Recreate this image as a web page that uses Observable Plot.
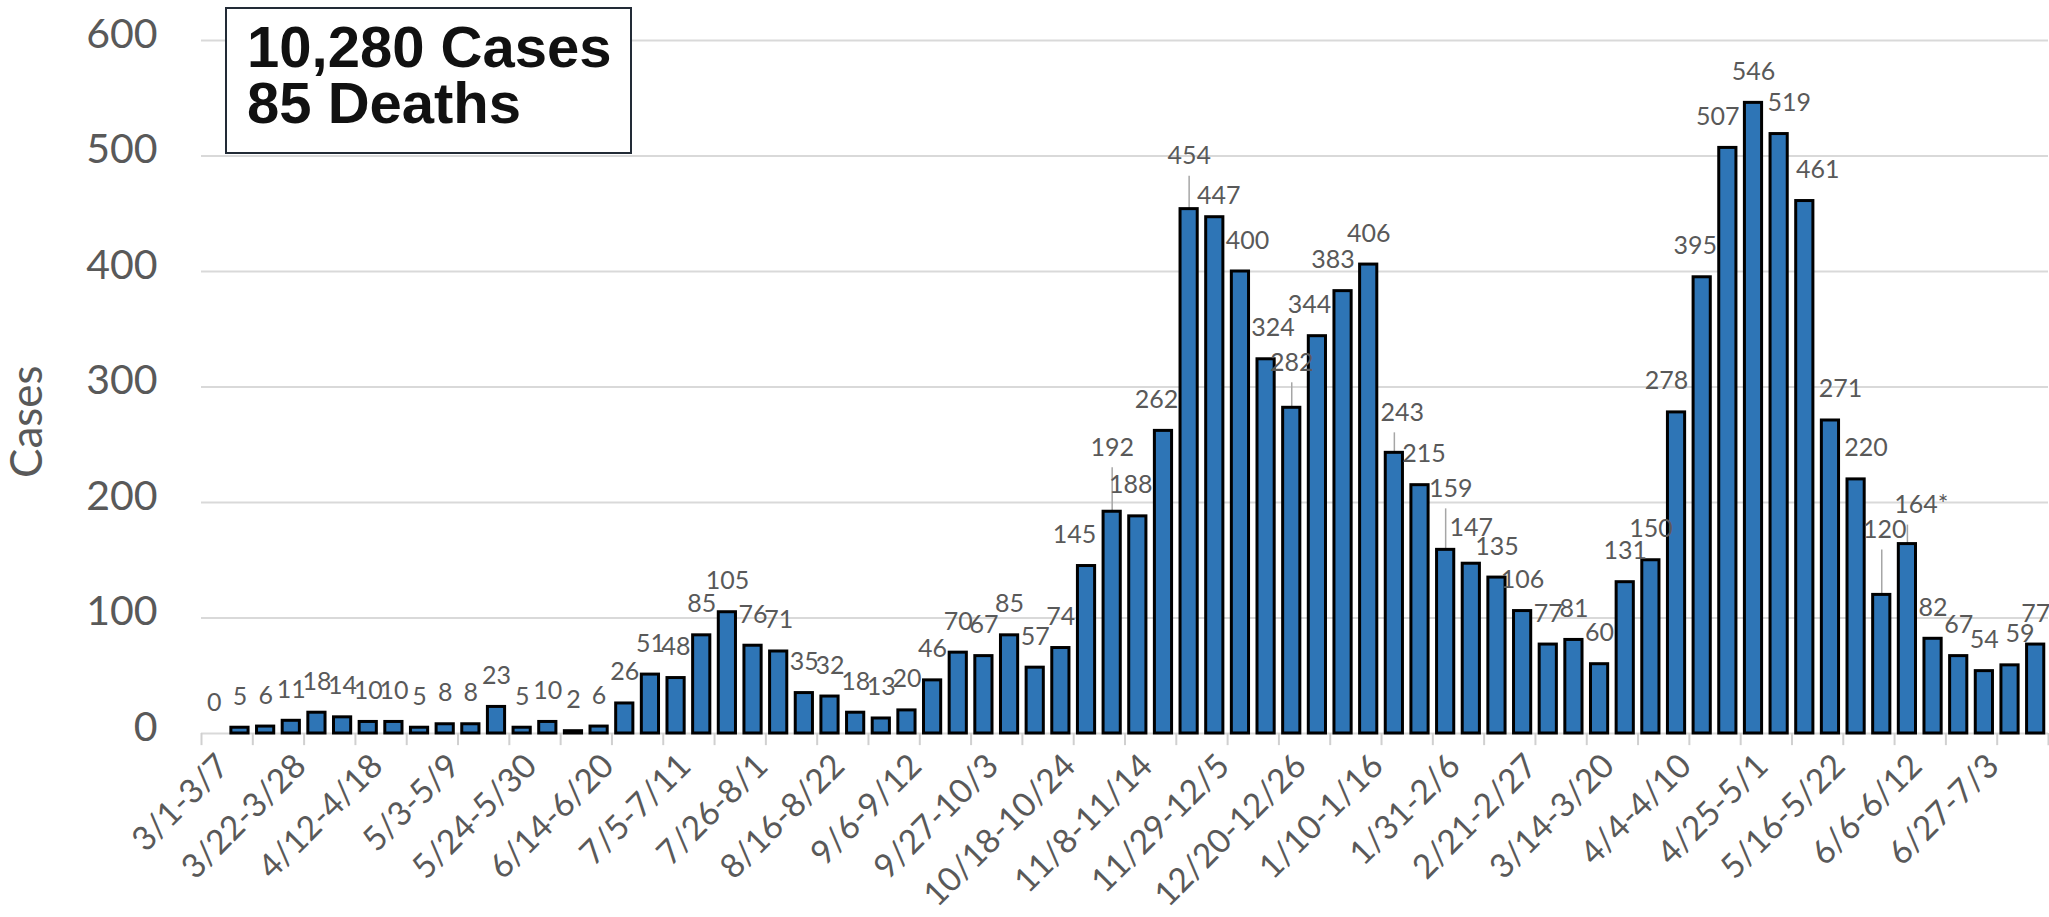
<!DOCTYPE html>
<html><head><meta charset="utf-8">
<script src="https://cdn.jsdelivr.net/npm/d3@7"></script>
<script src="https://cdn.jsdelivr.net/npm/@observablehq/plot@0.6"></script>
<style>
html,body{margin:0;padding:0;background:#fff;overflow:hidden}
#wrap{position:relative;width:2049px;height:917px}
#totals{position:absolute;left:225px;top:7px;width:407px;height:147px;box-sizing:border-box;border:2.5px solid #222b36;background:#fff;padding:10px 0 0 20px;font:bold 58px/56px "Liberation Sans",Arial,sans-serif;color:#111;white-space:nowrap}
</style></head><body>
<div id="wrap"><div id="chart"></div><div id="totals"></div></div>
<script>
const weeks = [
  "3/1-3/7","3/8-3/14","3/15-3/21","3/22-3/28","3/29-4/4","4/5-4/11","4/12-4/18","4/19-4/25","4/26-5/2",
  "5/3-5/9","5/10-5/16","5/17-5/23","5/24-5/30","5/31-6/6","6/7-6/13","6/14-6/20","6/21-6/27","6/28-7/4",
  "7/5-7/11","7/12-7/18","7/19-7/25","7/26-8/1","8/2-8/8","8/9-8/15","8/16-8/22","8/23-8/29","8/30-9/5",
  "9/6-9/12","9/13-9/19","9/20-9/26","9/27-10/3","10/4-10/10","10/11-10/17","10/18-10/24","10/25-10/31","11/1-11/7",
  "11/8-11/14","11/15-11/21","11/22-11/28","11/29-12/5","12/6-12/12","12/13-12/19","12/20-12/26","12/27-1/2","1/3-1/9",
  "1/10-1/16","1/17-1/23","1/24-1/30","1/31-2/6","2/7-2/13","2/14-2/20","2/21-2/27","2/28-3/6","3/7-3/13",
  "3/14-3/20","3/21-3/27","3/28-4/3","4/4-4/10","4/11-4/17","4/18-4/24","4/25-5/1","5/2-5/8","5/9-5/15",
  "5/16-5/22","5/23-5/29","5/30-6/5","6/6-6/12","6/13-6/19","6/20-6/26","6/27-7/3","7/4-7/10","7/11-7/17"
];
const cases = [
  0,5,6,11,18,14,10,10,5,
  8,8,23,5,10,2,6,26,51,
  48,85,105,76,71,35,32,18,13,
  20,46,70,67,85,57,74,145,192,
  188,262,454,447,400,324,282,344,383,
  406,243,215,159,147,135,106,77,81,
  60,131,150,278,395,507,546,519,461,
  271,220,120,164,82,67,54,59,77
];
const yTicks = [0,100,200,300,400,500,600];
const footnoteWeek = "6/6-6/12";
const totals = ["10,280 Cases","85 Deaths"];

// hand-placed data-label nudges (pixels), like the manually moved labels of the original
const labelNudge = {
  "10/25-10/31": {dx: -12}, "11/1-11/7": {raise: 33, leader: true}, "11/8-11/14": {dx: -7},
  "11/15-11/21": {dx: -7}, "11/22-11/28": {raise: 22, leader: true}, "11/29-12/5": {dx: 4, raise: -10},
  "12/6-12/12": {dx: 7}, "12/13-12/19": {dx: 7}, "12/20-12/26": {raise: 14, leader: true},
  "12/27-1/2": {dx: -8}, "1/3-1/9": {dx: -10}, "1/17-1/23": {dx: 8, raise: 9, leader: true},
  "1/24-1/30": {dx: 4}, "1/31-2/6": {dx: 5, raise: 30, leader: true}, "2/7-2/13": {raise: 5},
  "4/4-4/10": {dx: -10}, "4/11-4/17": {dx: -7}, "4/18-4/24": {dx: -10}, "5/2-5/8": {dx: 10},
  "5/9-5/15": {dx: 13}, "5/16-5/22": {dx: 10}, "5/23-5/29": {dx: 10}, "5/30-6/5": {dx: 3, raise: 34, leader: true},
  "6/6-6/12": {dx: 14, raise: 8, leader: true}, "7/4-7/10": {dx: 10}
};

const W = 2049, H = 917, mL = 201, mR = 1, mT = 40, mB = 184;
const step = (W - mL - mR) / weeks.length;
const pxPerUnit = (H - mT - mB) / 600;
const data = weeks.map((w, i) => ({week: w, cases: cases[i]}));
const labelWeeks = weeks.filter((d, i) => i % 3 === 0);
const boundaryWeeks = weeks.filter((d, i) => i % 2 === 0);
const grey = "#595959";
const gap = 23;

const labelMarks = data.map(d => {
  const n = labelNudge[d.week] || {};
  return Plot.text([d], {
    x: "week", y: "cases",
    text: d => d.week === footnoteWeek ? d.cases + "*" : String(d.cases),
    lineAnchor: "bottom", dx: n.dx || 0, dy: -(gap + (n.raise || 0)),
    fontSize: 25, fill: grey
  });
});
const leaders = data.filter(d => (labelNudge[d.week] || {}).leader);

const chart = Plot.plot({
  width: W, height: H,
  marginLeft: mL, marginRight: mR, marginTop: mT, marginBottom: mB,
  style: {fontFamily: "Lato, sans-serif", background: "#fff", overflow: "visible"},
  x: {domain: weeks, paddingInner: 0.33, paddingOuter: 0.165, label: null},
  y: {domain: [0, 600], label: null},
  marks: [
    Plot.gridY(yTicks, {stroke: "#d9d9d9", strokeOpacity: 1, strokeWidth: 2}),
    Plot.ruleX(boundaryWeeks, {x: d => d, y1: 0, y2: -10.5, dx: -step / 2, stroke: "#d0d0d0", strokeWidth: 2}),
    Plot.ruleX([weeks[weeks.length - 1]], {x: d => d, y1: 0, y2: -10.5, dx: step / 2, stroke: "#d0d0d0", strokeWidth: 2}),
    Plot.ruleX(leaders, {
      x: "week", y1: "cases",
      y2: d => d.cases + (11 + labelNudge[d.week].raise) / pxPerUnit,
      stroke: "#a6a6a6", strokeWidth: 1.5
    }),
    Plot.barY(data, {x: "week", y: "cases", fill: "#2e75b6", stroke: "#000", strokeWidth: 3}),
    ...labelMarks,
    Plot.axisY({ticks: yTicks, tickSize: 0, tickPadding: 44, fontSize: 41, fill: grey, dy: -6, label: null}),
    Plot.axisX({ticks: labelWeeks, tickSize: 0, tickRotate: -45, tickPadding: 27, dx: 9, fontSize: 33.5, fill: grey, label: null}),
    Plot.text(["Cases"], {frameAnchor: "left", dx: -174, dy: 91, rotate: -90, fontSize: 44, fill: grey})
  ]
});
document.getElementById("chart").appendChild(chart);
const box = document.getElementById("totals");
totals.forEach(t => { const d = document.createElement("div"); d.textContent = t; box.appendChild(d); });
</script>
</body></html>
